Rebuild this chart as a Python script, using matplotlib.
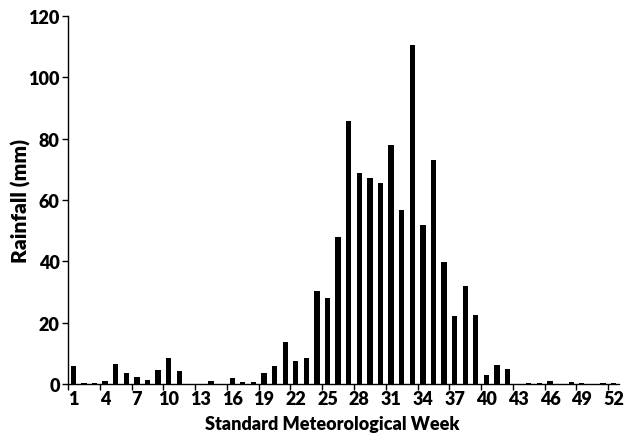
import matplotlib
matplotlib.use("Agg")
import matplotlib.pyplot as plt
import numpy as np

weeks = list(range(1, 53))
rainfall = [5.8, 0.2, 0.4, 0.9, 6.4, 3.6, 2.2, 1.4, 4.6, 8.4,
            4.2, 0.0, 0.0, 1.0, 0.0, 2.0, 0.5, 0.5, 3.7, 5.8,
            13.6, 7.4, 8.4, 30.2, 28.1, 47.8, 85.6, 68.8, 67.2, 65.4,
            78.0, 56.6, 110.4, 51.7, 73.0, 39.7, 22.2, 32.0, 22.5, 3.0,
            6.1, 4.8, 0.0, 0.2, 0.2, 1.1, 0.0, 0.6, 0.2, 0.0,
            0.2, 0.4]
label_weeks = list(range(1, 53, 3))
yticks = [0, 20, 40, 60, 80, 100, 120]

plt.rcParams['font.family'] = ['Lato', 'DejaVu Sans']
plt.rcParams['font.weight'] = 'heavy'
W = 'heavy'

fig = plt.figure(figsize=(6.27, 4.35), dpi=100)
ax = fig.add_axes([0.1085, 0.115, 0.8785, 0.846])

ax.bar(weeks, rainfall, width=0.5, color='black')

ax.set_xlim(0.5, 52.5)
ax.set_ylim(0, 120)
ax.set_yticks(yticks)
ax.set_yticklabels([str(v) for v in yticks], fontsize=13, fontweight=W)

ax.set_xticks([w - 0.5 for w in label_weeks])
ax.set_xticklabels([])
ax.set_xticks(label_weeks, minor=True)
ax.set_xticklabels([str(w) for w in label_weeks], minor=True, fontsize=13, fontweight=W)
ax.tick_params(axis='x', which='minor', length=0, pad=4)
ax.tick_params(axis='x', which='major', length=4, width=1, direction='out')
ax.tick_params(axis='y', length=4, width=1, direction='out', pad=2)

for s in ['top', 'right']:
    ax.spines[s].set_visible(False)
for s in ['left', 'bottom']:
    ax.spines[s].set_linewidth(1)

ax.set_xlabel('Standard Meteorological Week', fontsize=13, fontweight=W, labelpad=2)
ax.xaxis.set_label_coords(0.48, -0.085)
ax.set_ylabel('Rainfall (mm)', fontsize=15, fontweight=W)
ax.yaxis.set_label_coords(-0.068, 0.5)

fig.savefig('out.png', dpi=100)
